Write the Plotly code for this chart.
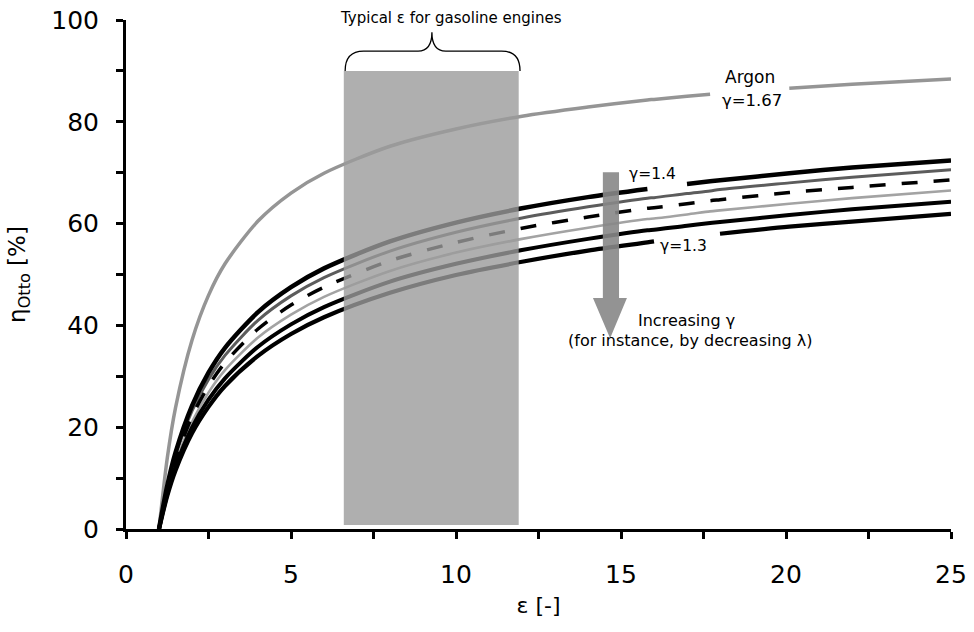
import plotly.graph_objects as go

# compression ratio grid
eps = [1, 1.25, 1.5, 2, 2.5, 3, 4, 5, 6, 8, 10, 12, 14, 15.8, 16, 17, 17.7, 18, 20.1, 22, 25]

eta_argon = [0, 13.9, 23.8, 37.1, 45.9, 52.1, 60.5, 66.0, 69.9, 75.2, 78.6, 81.1, 82.9, 84.3, 84.4, 85.0, 85.4, 85.6, 86.6, 87.4, 88.4]
eta_140 = [0, 8.5, 15.0, 24.2, 30.7, 35.6, 42.6, 47.5, 51.2, 56.5, 60.2, 63.0, 65.2, 66.8, 67.0, 67.8, 68.3, 68.5, 69.9, 71.0, 72.4]
eta_138 = [0, 8.1, 14.3, 23.2, 29.4, 34.1, 41.0, 45.8, 49.4, 54.6, 58.3, 61.1, 63.3, 65.0, 65.1, 65.9, 66.4, 66.7, 68.0, 69.1, 70.6]
eta_136 = [0, 7.7, 13.6, 22.1, 28.1, 32.7, 39.3, 44.0, 47.5, 52.7, 56.3, 59.1, 61.3, 63.0, 63.1, 63.9, 64.5, 64.7, 66.1, 67.1, 68.6]
eta_134 = [0, 7.3, 12.9, 21.0, 26.8, 31.2, 37.6, 42.1, 45.6, 50.7, 54.3, 57.0, 59.2, 60.9, 61.0, 61.8, 62.4, 62.6, 63.9, 65.0, 66.5]
eta_132 = [0, 6.9, 12.2, 19.9, 25.4, 29.6, 35.8, 40.2, 43.6, 48.6, 52.1, 54.8, 57.0, 58.7, 58.8, 59.6, 60.1, 60.3, 61.7, 62.8, 64.3]
eta_130 = [0, 6.5, 11.5, 18.8, 24.0, 28.1, 34.0, 38.3, 41.6, 46.4, 49.9, 52.5, 54.7, 56.3, 56.5, 57.3, 57.8, 58.0, 59.4, 60.4, 61.9]

x_ticks = [0, 5, 10, 15, 20, 25]
y_ticks = [0, 20, 40, 60, 80, 100]

FONT = "DejaVu Sans"

series = [
    # (values, color, width, dash, gap range where the line is interrupted by a label)
    (eta_argon, "#959595", 3.5, "solid", (17.7, 20.1)),
    (eta_138, "#5c5c5c", 3.0, "solid", None),
    (eta_134, "#a3a3a3", 2.6, "solid", None),
    (eta_136, "black", 3.5, "16px,16px", None),
    (eta_132, "black", 4.0, "solid", None),
    (eta_130, "black", 4.2, "solid", (16.0, 18.0)),
    (eta_140, "black", 4.5, "solid", (15.8, 17.0)),
]

fig = go.Figure()
for vals, color, width, dash, gap in series:
    ys = []
    for e, v in zip(eps, vals):
        if gap is not None and gap[0] < e < gap[1]:
            ys.append(None)
        else:
            ys.append(v)
    fig.add_trace(go.Scatter(
        x=eps, y=ys, mode="lines", connectgaps=False,
        line=dict(color=color, width=width, dash=dash, shape="spline", smoothing=0.8),
        hoverinfo="skip", showlegend=False))

# typical compression ratio band for gasoline engines
fig.add_shape(type="rect", xref="x", yref="y", x0=6.6, x1=11.9, y0=0.8, y1=90,
              fillcolor="rgba(155,155,155,0.8)", line=dict(width=0), layer="above")
# brace above the band
fig.add_shape(type="path", xref="x", yref="y",
              path="M 6.64,90 Q 6.64,93.9 7.2,93.9 L 8.85,93.9 Q 9.27,93.9 9.27,97.6 "
                   "Q 9.27,93.9 9.69,93.9 L 11.38,93.9 Q 11.94,93.9 11.94,90",
              line=dict(color="black", width=1.3), layer="above")
# arrow "increasing gamma"
fig.add_shape(type="path", xref="x", yref="y",
              path="M 14.45,70.1 L 14.94,70.1 L 14.94,45.4 L 15.18,45.4 L 14.67,37.5 "
                   "L 14.15,45.4 L 14.45,45.4 Z",
              fillcolor="rgba(135,135,135,0.9)", line=dict(width=0), layer="above")

def ann(text, x, y, size, yref="y"):
    fig.add_annotation(text=text, x=x, y=y, xref="x", yref=yref, showarrow=False,
                       xanchor="center", yanchor="middle",
                       font=dict(family=FONT, size=size, color="black"))

ann("Typical ε for gasoline engines", 9.85, 1.004, 15, yref="paper")
ann("Argon", 18.9, 88.8, 17)
ann("γ=1.67", 18.97, 84.1, 16.5)
ann("γ=1.4", 15.94, 69.7, 15.5)
ann("γ=1.3", 16.9, 55.6, 15.5)
ann("Increasing γ", 16.97, 40.9, 16)
ann("(for instance, by decreasing λ)", 17.1, 37.0, 16)

axis_common = dict(
    showline=True, linewidth=3, linecolor="black", mirror=False,
    ticks="outside", ticklen=7, tickwidth=3, tickcolor="black",
    showgrid=False, zeroline=False, automargin=False,
    ticklabeloverflow="allow",
    tickfont=dict(family=FONT, size=25, color="black"),
)

fig.update_xaxes(range=[0, 25], tickvals=x_ticks, ticktext=[str(v) for v in x_ticks],
                 minor=dict(dtick=2.5, ticklen=7, tickwidth=3, tickcolor="black", ticks="outside"),
                 ticklabelstandoff=14,
                 title=dict(text="ε [-]", font=dict(family=FONT, size=22, color="black"), standoff=10),
                 **axis_common)
fig.update_yaxes(range=[0, 100], tickvals=y_ticks, ticktext=[str(v) for v in y_ticks],
                 minor=dict(dtick=10, ticklen=7, tickwidth=3, tickcolor="black", ticks="outside"),
                 ticklabelstandoff=12,
                 title=dict(text="η<sub>Otto</sub> [%]", font=dict(family=FONT, size=23, color="black"), standoff=20),
                 **axis_common)

fig.update_layout(
    width=974, height=632,
    margin=dict(l=126, r=23, t=20, b=103),
    plot_bgcolor="white", paper_bgcolor="white",
    showlegend=False,
)

# remove the default page margin so the figure fills the window exactly
fig.write_html("out.html",
               config={"displayModeBar": False},
               post_script="document.body.style.margin='0';document.body.style.overflow='hidden';")
